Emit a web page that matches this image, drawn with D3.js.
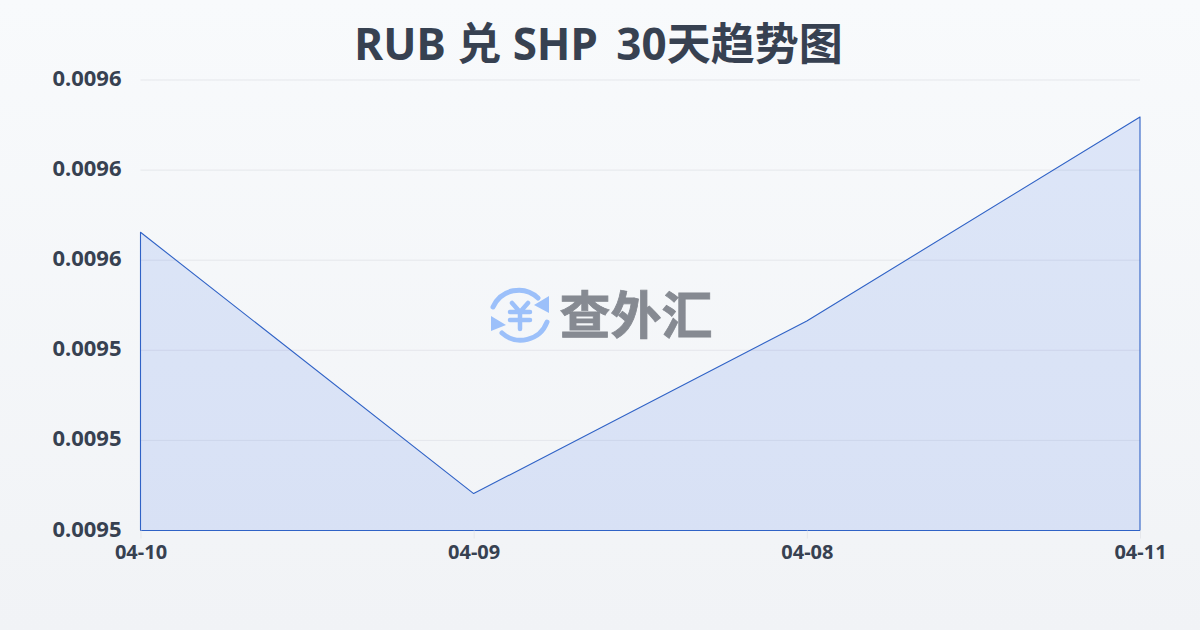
<!DOCTYPE html>
<html>
<head>
<meta charset="utf-8">
<script src="https://cdn.jsdelivr.net/npm/d3@7"></script>
<style>
  html, body { margin: 0; padding: 0; }
  body { width: 1200px; height: 630px; overflow: hidden; }
  text { font-family: "Noto Sans", "Noto Sans CJK SC", sans-serif; font-kerning: none; }
</style>
</head>
<body>
<svg id="chart"></svg>
<script>
// Data
const dates = ["04-10", "04-09", "04-08", "04-11"];
const rates = [0.0095662, 0.0095082, 0.0095465, 0.0095918];
const yTicks = [0.0095, 0.00952, 0.00954, 0.00956, 0.00958, 0.0096];
const titleLeft = "RUB 兑 SHP";
const titleRight = "30天趋势图";
const logoText = "查外汇";

const width = 1200;
const height = 630;
const margin = { top: 80, right: 60, bottom: 99.5, left: 140.5 };

const svg = d3.select("#chart")
    .attr("width", width)
    .attr("height", height)
    .style("display", "block");

// Page background
const defs = svg.append("defs");
const bg = defs.append("linearGradient")
    .attr("id", "bg")
    .attr("x1", 0).attr("y1", 0).attr("x2", 0).attr("y2", 1);
bg.append("stop").attr("offset", "0%").attr("stop-color", "#f8fafc");
bg.append("stop").attr("offset", "100%").attr("stop-color", "#f1f3f6");

svg.append("rect")
    .attr("width", width)
    .attr("height", height)
    .attr("fill", "url(#bg)");

// Scales
const x = d3.scalePoint()
    .domain(dates)
    .range([margin.left, width - margin.right]);

const y = d3.scaleLinear()
    .domain([0.0095, 0.0096])
    .range([height - margin.bottom, margin.top]);

// Grid lines
svg.append("g")
    .selectAll("line")
    .data(yTicks)
    .enter()
    .append("line")
    .attr("x1", margin.left)
    .attr("x2", width - margin.right)
    .attr("y1", d => y(d))
    .attr("y2", d => y(d))
    .attr("stroke", "#e5e7eb")
    .attr("stroke-width", 1);

// Area with its outline
const area = d3.area()
    .x((d, i) => x(dates[i]))
    .y0(y(0.0095))
    .y1(d => y(d));

svg.append("path")
    .datum(rates)
    .attr("d", area)
    .attr("fill", "rgba(37,99,235,0.125)")
    .attr("stroke", "#2f62c6")
    .attr("stroke-width", 1.1)
    .attr("stroke-linejoin", "round");

// Axes
const yAxis = svg.append("g")
    .attr("transform", `translate(${margin.left},0)`)
    .call(d3.axisLeft(y).tickValues(yTicks).tickFormat(d => d.toFixed(4)).tickSize(0).tickPadding(19));
yAxis.select(".domain").remove();
yAxis.selectAll("text")
    .attr("font-size", 22)
    .attr("font-weight", 700)
    .attr("fill", "#374151")
    .attr("dy", "0.25em")
    .style("font-family", '"Noto Sans", "Noto Sans CJK SC", sans-serif');

const xAxis = svg.append("g")
    .attr("transform", `translate(0,${height - margin.bottom})`)
    .call(d3.axisBottom(x).tickSize(8).tickPadding(6));
xAxis.select(".domain").remove();
xAxis.selectAll("line").attr("stroke", "#e5e7eb");
xAxis.selectAll("text")
    .attr("font-size", 20)
    .attr("font-weight", 700)
    .attr("fill", "#374151")
    .style("font-family", '"Noto Sans", "Noto Sans CJK SC", sans-serif');

// Title, the gap before the number is wider than a plain space
const title = svg.append("text")
    .attr("x", 598.5)
    .attr("y", 60)
    .attr("text-anchor", "middle")
    .attr("font-size", 44)
    .attr("font-weight", 700)
    .attr("fill", "#374151");
title.append("tspan").text(titleLeft + " ");
title.append("tspan").attr("dx", 7).text(titleRight);

// Watermark logo
const logo = svg.append("g").attr("transform", "translate(520,315)");
logo.append("path")
    .attr("d", "M-27,-8 A28,28 0 0 1 18,-17 M27,7 A28,28 0 0 1 -18,18")
    .attr("fill", "none")
    .attr("stroke", "#9cc0fa")
    .attr("stroke-width", 5)
    .attr("stroke-linecap", "round");
logo.append("path")
    .attr("d", "M29,-19 L29,-2 L14,-10 Z M-29,1 L-29,16 L-14,10 Z")
    .attr("fill", "#9cc0fa");
logo.append("path")
    .attr("d", "M-8,-12 L0,-3 L8,-12 M-10,-3 L10,-3 M-10,5 L10,5 M0,-3 L0,14")
    .attr("fill", "none")
    .attr("stroke", "#9cc0fa")
    .attr("stroke-width", 4.5)
    .attr("stroke-linecap", "round")
    .attr("stroke-linejoin", "round");

svg.append("text")
    .attr("x", 636)
    .attr("y", 334)
    .attr("text-anchor", "middle")
    .attr("font-size", 51)
    .attr("font-weight", 700)
    .attr("fill", "#868a92")
    .attr("stroke", "#868a92")
    .attr("stroke-width", 0.8)
    .style("font-family", '"Noto Sans CJK SC", sans-serif')
    .text(logoText);
</script>
</body>
</html>
